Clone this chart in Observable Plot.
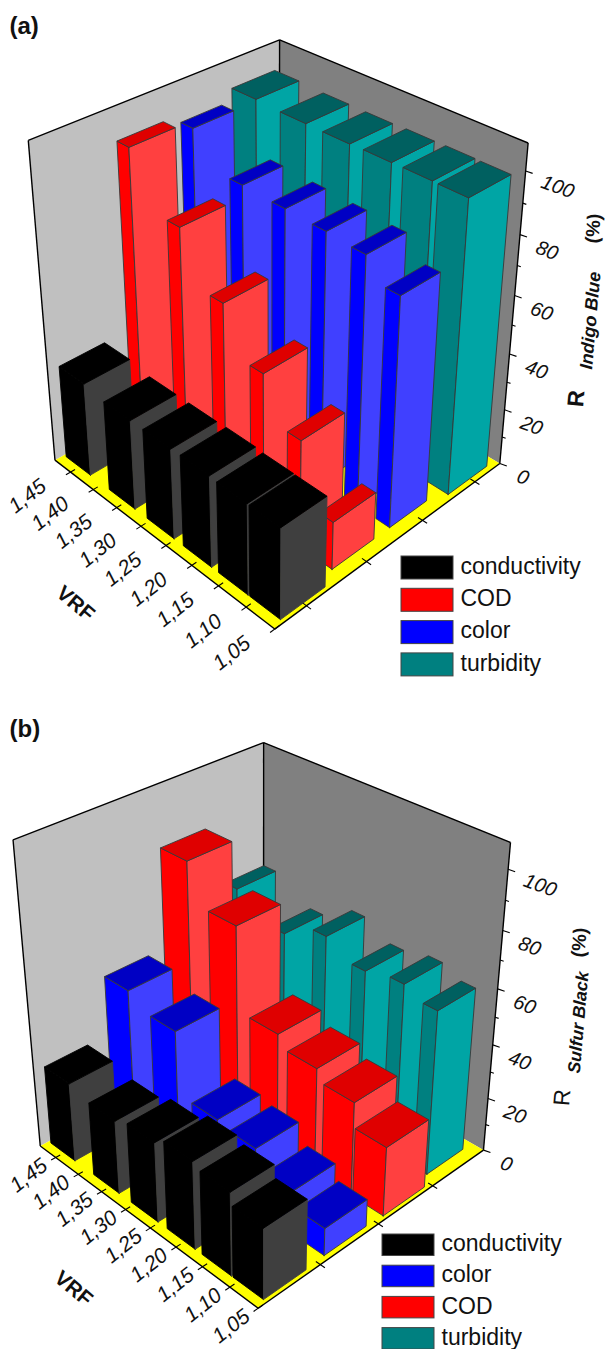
<!DOCTYPE html>
<html>
<head>
<meta charset="utf-8">
<style>html,body{margin:0;padding:0;background:#fff}svg{display:block}</style>
<script src="https://cdn.jsdelivr.net/npm/d3@7"></script>
<script src="https://cdn.jsdelivr.net/npm/@observablehq/plot@0.6"></script>
</head>
<body>
<div id="chart"></div>
<script>
// ---- data, ordered by VRF ----
const vrfBars = [1.083, 1.14, 1.207, 1.279, 1.358, 1.453];
const vrfTicks = ["1,05","1,10","1,15","1,20","1,25","1,30","1,35","1,40","1,45"];
const valueTicks = [0,10,20,30,40,50,60,70,80,90,100];

const namesA = ["conductivity","COD","color","turbidity"];
const aConductivity = [31.5,31.6,32,31.8,31.8,33.3];
const aCOD = [16.7,37.2,51.5,66.7,83.3,100.2];
const aColor = [78.4,85.4,86.2,86.7,87.2,97.6];
const aTurbidity = [99.6,99.7,99.6,99.4,99.5,100];

const namesB = ["conductivity","color","COD","turbidity"];
const bConductivity = [25.7,30.3,32.1,29.4,27.2,29.4];
const bColor = [10.1,15.8,22.6,24.1,47,51.5];
const bCOD = [25.5,34.6,38.9,43.2,73.5,87.3];
const bTurbidity = [60,63.2,60.9,66.1,59.5,67.1];

// ---- styles ----
const palette = {
  conductivity: {left:"#000000", right:"#3f3f3f", top:"#000000", edge:null},
  COD: {left:"#ff0000", right:"#ff4040", top:"#df0000", edge:"#383838"},
  color: {left:"#0000ff", right:"#4040ff", top:"#0000c4", edge:"#383838"},
  turbidity: {left:"#008080", right:"#00a5a5", top:"#006060", edge:"#383838"}
};
const vrfEnd = 1.485, wTop = 1.085;
const U = vrf => (vrf - 1.05) / (vrfEnd - 1.05);

function solveHomography(pts){
  const S = 500, n = 11;
  const M = Array.from({length:n},()=>new Array(n+1).fill(0));
  const add = (r,b)=>{ for(let i=0;i<n;i++){ for(let j=0;j<n;j++) M[i][j]+=r[i]*r[j]; M[i][n]+=r[i]*b; } };
  for(const [u,v,w,px,py] of pts){
    const x=px/S,y=py/S;
    add([u,v,w,1,0,0,0,0,-x*u,-x*v,-x*w],x);
    add([0,0,0,0,u,v,w,1,-y*u,-y*v,-y*w],y);
  }
  for(let c=0;c<n;c++){
    let p=c; for(let r=c+1;r<n;r++) if(Math.abs(M[r][c])>Math.abs(M[p][c])) p=r;
    [M[c],M[p]]=[M[p],M[c]];
    for(let r=0;r<n;r++){ if(r===c) continue; const f=M[r][c]/M[c][c]; for(let k=c;k<=n;k++) M[r][k]-=f*M[c][k]; }
  }
  const h=M.map((r,i)=>r[n]/r[i]);
  return (u,v,w)=>{ const d=h[8]*u+h[9]*v+h[10]*w+1;
    return [S*(h[0]*u+h[1]*v+h[2]*w+h[3])/d, S*(h[4]*u+h[5]*v+h[6]*w+h[7])/d]; };
}

function panel(cfg){
  const P = solveHomography(cfg.calib);
  const at = (vrf,v,val)=>P(U(vrf),v,val/100);
  const polys=[]; let id=0;
  const poly=(corners,fill,stroke)=>{ id++; [...corners,corners[0]].forEach(c=>polys.push({id,x:c[0],y:c[1],fill,stroke})); };

  // walls and floor
  const top=wTop*100;
  const F=at(1.05,0,0),L=at(vrfEnd,0,0),R=at(1.05,1,0),B=at(vrfEnd,1,0),
        TL=at(vrfEnd,0,top),TR=at(1.05,1,top),TB=at(vrfEnd,1,top);
  const walls=[]; let wid=0;
  const wallPoly=(cs,fill)=>{wid++;[...cs,cs[0]].forEach(c=>walls.push({id:wid,x:c[0],y:c[1],fill}));};
  wallPoly([L,TL,TB,B],"#c0c0c0");
  wallPoly([R,TR,TB,B],"#808080");
  wallPoly([F,L,B,R],"#ffff00");

  const seg=(a,b)=>({x1:a[0],y1:a[1],x2:b[0],y2:b[1]});
  const edges=[seg(TL,TB),seg(TB,TR),seg(TL,L),seg(TR,R),seg(TB,B),seg(L,F),seg(F,R)];
  // ticks
  const ticks=[];
  vrfTicks.forEach(t=>{ const a=at(+t.replace(",","."),-0.018,0), b=at(+t.replace(",","."),0.018,0); ticks.push(seg(a,b)); });
  cfg.seriesTicks.forEach(v=>{ const c=-0.018; const a=P(c,v,0), b=P(-c,v,0); ticks.push(seg(a,b)); });
  valueTicks.forEach(t=>{ const a=at(1.05,1,t), len=t%20===0?7:3.5; ticks.push(seg(a,[a[0]+len,a[1]+len*0.35])); });

  // bars, painted back to front
  for(let i=vrfBars.length-1;i>=0;i--){
    for(let s=cfg.names.length-1;s>=0;s--){
      const c=palette[cfg.names[s]], val=cfg.values[s][i];
      const u0=vrfBars[i]-cfg.halfDepth[s], u1=vrfBars[i]+cfg.halfDepth[s];
      const v0=cfg.vStart[s], v1=cfg.vEnd[s];
      poly([at(u0,v0,0),at(u1,v0,0),at(u1,v0,val),at(u0,v0,val)],c.left,c.edge||c.left);
      poly([at(u0,v0,0),at(u0,v1,0),at(u0,v1,val),at(u0,v0,val)],c.right,c.edge||c.right);
      poly([at(u0,v0,val),at(u1,v0,val),at(u1,v1,val),at(u0,v1,val)],c.top,c.edge||c.top);
    }
  }
  const vrfLabels=vrfTicks.map(t=>{const p=at(+t.replace(",","."),0,0);return {t,x:p[0]+cfg.vrfLabelOffset[0],y:p[1]+cfg.vrfLabelOffset[1]};});
  const valLabels=valueTicks.filter(t=>t%20===0).map(t=>{const p=at(1.05,1,t);return {t:String(t),x:p[0]+(t===100?32:t===0?23:27),y:p[1]+(t===0?14:16)};});

  const legend=cfg.names.map((n,i)=>({n,i,y1:cfg.legY[0]+i*cfg.legY[1],y2:cfg.legY[0]+i*cfg.legY[1]+cfg.legY[2],fill:palette[n].left}));
  const sans="'Liberation Sans', Arial, sans-serif";

  return Plot.plot({
    width:605,height:cfg.height,margin:0,
    x:{domain:[0,605],range:[0,605],axis:null},
    y:{domain:[cfg.y0,cfg.y0+cfg.height],range:[0,cfg.height],axis:null},
    color:{type:"identity"},
    style:{fontFamily:sans,background:"#fff"},
    marks:[
      Plot.line(walls,{x:"x",y:"y",z:"id",fill:"fill",stroke:null}),
      Plot.link(edges,{x1:"x1",y1:"y1",x2:"x2",y2:"y2",stroke:"#000",strokeWidth:1.4}),
      Plot.link(ticks,{x1:"x1",y1:"y1",x2:"x2",y2:"y2",stroke:"#000",strokeWidth:1.1}),
      Plot.line(polys,{x:"x",y:"y",z:"id",fill:"fill",stroke:"stroke",strokeWidth:0.9,strokeLinejoin:"round"}),
      Plot.text(vrfLabels,{x:"x",y:"y",text:"t",rotate:-38,fontSize:21,fill:"#111",fontStyle:"italic"}),
      Plot.text(valLabels,{x:"x",y:"y",text:"t",rotate:20,fontSize:20,fill:"#111",fontStyle:"italic"}),
      Plot.text([cfg.vrfTitle],{x:d=>d[0],y:d=>d[1],text:()=>"VRF",rotate:40,fontSize:21,fontWeight:"bold",fill:"#111"}),
      ...cfg.axisTexts.map(d=>Plot.text([d],{x:"x",y:"y",text:"t",rotate:d.r,fontSize:d.s,fontWeight:d.w,fontStyle:d.fs,fill:"#111"})),
      Plot.text([cfg.tag],{x:()=>9,y:()=>cfg.tagY,text:d=>d,textAnchor:"start",fontSize:24,fontWeight:"bold",fill:"#111"}),
      Plot.rect(legend,{x1:()=>cfg.legX,x2:()=>cfg.legX+52,y1:"y1",y2:"y2",fill:"fill",stroke:"#444",strokeWidth:1}),
      Plot.text(legend,{x:()=>cfg.legX+59,y:d=>(d.y1+d.y2)/2-1.5,text:"n",textAnchor:"start",fontSize:23,fill:"#111"})
    ]
  });
}

const cfgA={
  height:690,y0:0,tag:"(a)",tagY:26,names:namesA,
  values:[aConductivity,aCOD,aColor,aTurbidity],
  vStart:[.036,.28,.53,.77],vEnd:[.215,.46,.70,.96],halfDepth:[.027,.012,.012,.024],
  seriesTicks:[.125,.375,.625,.875],vrfLabelOffset:[-43,24],
  legX:401,legY:[556,32.3,23],vrfTitle:[75,603],
  axisTexts:[
    {t:"R",x:576,y:398,r:-85,s:23,fs:"normal",w:"bold"},
    {t:"Indigo Blue",x:590,y:320,r:-85,s:18,fs:"italic",w:"bold"},
    {t:"(%)",x:593,y:228,r:-85,s:19,fs:"normal",w:"bold"}
  ],
  calib:[
    [0,0,0,273,628],[1,0,0,55,460],[0,1,0,499,463],
    [1,0,wTop,28,140],[0,1,wTop,527,143],[1,1,wTop,279,39],
    [0,1,.5,511,325],[0,1,1,526,170],
    [U(1.25),0,0,164,544],[U(1.45),0,0,70,472],
    [0,.125,0,307,606],[0,.375,0,367,561],[0,.625,0,423,520],[0,.875,0,474,481]
  ]
};
const cfgB={
  height:659,y0:690,tag:"(b)",tagY:729,names:namesB,
  values:[bConductivity,bColor,bCOD,bTurbidity],
  vStart:[.034,.285,.537,.78],vEnd:[.205,.466,.727,.956],halfDepth:[.027,.025,.027,.012],
  seriesTicks:[.25,.5,.75],vrfLabelOffset:[-27,18],
  legX:382,legY:[1234,31.2,21.5],vrfTitle:[73,1288],
  axisTexts:[
    {t:"R",x:562,y:1097,r:-85,s:23,fs:"normal",w:"normal"},
    {t:"Sulfur Black",x:578,y:1022,r:-85,s:17.5,fs:"italic",w:"bold"},
    {t:"(%)",x:579,y:942,r:-85,s:19,fs:"normal",w:"bold"}
  ],
  calib:[
    [0,0,0,258,1307],[1,0,0,40,1146],[0,1,0,483,1148],
    [1,0,wTop,13,839],[0,1,wTop,510,841],[1,1,wTop,263,742],
    [0,1,.4,493,1045],[0,1,.6,497,990],[0,1,1,507,869],
    [U(1.25),0,0,149,1227],[U(1.45),0,0,55,1157],
    [0,.25,0,320,1265],[0,.5,0,378,1224],[0,.75,0,432,1185]
  ]
};
const root=document.getElementById("chart");
root.append(panel(cfgA),panel(cfgB));
</script>
</body>
</html>
